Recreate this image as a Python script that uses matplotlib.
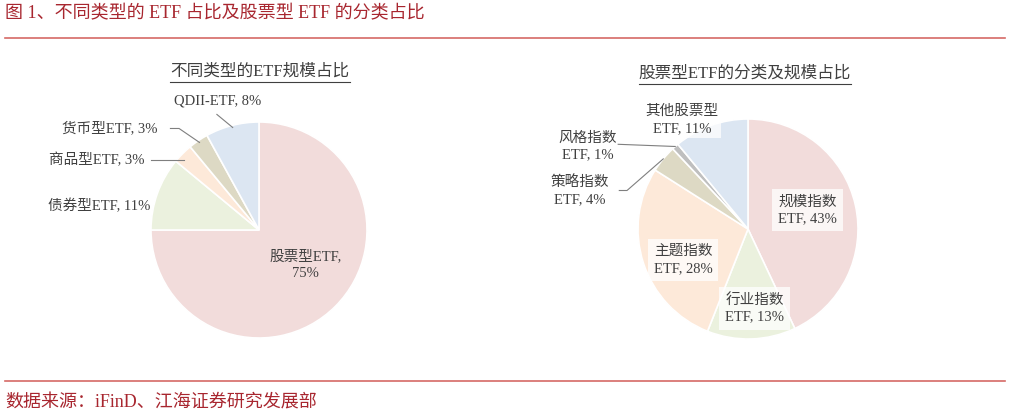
import numpy as np
import matplotlib
matplotlib.use('Agg')
import matplotlib.pyplot as plt
from matplotlib.lines import Line2D

plt.rcParams['font.family'] = ['Liberation Serif', 'Noto Sans CJK SC']

#-------------------------------------------------------------------------------
#data
#-------------------------------------------------------------------------------
left_labels = ['股票型ETF,\n75%', '债券型ETF, 11%', '商品型ETF, 3%', '货币型ETF, 3%',
               'QDII-ETF, 8%']
left_values = [75, 11, 3, 3, 8]

right_labels = ['规模指数\nETF, 43%', '行业指数\nETF, 13%', '主题指数\nETF, 28%',
                '策略指数\nETF, 4%', '风格指数\nETF, 1%', '其他股票型\nETF, 11%']
right_values = [43, 13, 28, 4, 1, 11]

colors_left = ['#F2DCDB', '#EBF1DE', '#FDE9D9', '#DDD9C4', '#DCE6F2']
colors_right = ['#F2DCDB', '#EBF1DE', '#FDE9D9', '#DDD9C4', '#BFBFBF', '#DCE6F2']

red = '#A8262F'
line_red = '#D66A66'
txt = '#404040'

W, H = 1012, 417
fig = plt.figure(figsize=(W / 100, H / 100), dpi=100)


def pie_axes(cx, cy, r):
    #axes that spans exactly the pie (pixel centre, pixel radius)
    ax = fig.add_axes([(cx - r) / W, (H - cy - r) / H, 2 * r / W, 2 * r / H])
    ax.set_xlim(-1, 1)
    ax.set_ylim(-1, 1)
    ax.axis('off')
    return ax


def mid_point(wedge, r=1.0):
    ang = np.deg2rad((wedge.theta1 + wedge.theta2) / 2)
    return r * np.cos(ang), r * np.sin(ang)


#-------------------------------------------------------------------------------
#left pie
#-------------------------------------------------------------------------------
ax1 = pie_axes(259, 230, 108)
w1, _ = ax1.pie(left_values, colors=colors_left, startangle=90, counterclock=False,
                radius=1, center=(0, 0), frame=False,
                wedgeprops=dict(edgecolor='white', linewidth=1.2))
ax1.set_xlim(-1, 1)
ax1.set_ylim(-1, 1)

lab_kw = dict(fontsize=10.5, color=txt, clip_on=False)
ax1.text(0.43, -0.32, left_labels[0], ha='center', va='center', linespacing=1.4,
         **lab_kw)
ax1.text(-1.01, 0.22, left_labels[1], ha='right', va='center', **lab_kw)
ax1.text(-1.06, 0.65, left_labels[2], ha='right', va='center', **lab_kw)
ax1.text(-0.94, 0.94, left_labels[3], ha='right', va='center', **lab_kw)
ax1.text(-0.38, 1.19, left_labels[4], ha='center', va='center', **lab_kw)

leader = dict(color='#7F7F7F', linewidth=0.8, clip_on=False)
#commodity
x, y = mid_point(w1[2], 0.98)
ax1.plot([-1.00, x], [0.65, 0.65], **leader)
#money market
x, y = mid_point(w1[3], 0.98)
ax1.plot([-0.82, -0.74, x], [0.94, 0.94, y], **leader)
#qdii
x, y = mid_point(w1[4], 0.98)
ax1.plot([-0.39, x], [1.07, y], **leader)

#-------------------------------------------------------------------------------
#right pie
#-------------------------------------------------------------------------------
ax2 = pie_axes(748, 229, 110)
w2, _ = ax2.pie(right_values, colors=colors_right, startangle=90, counterclock=False,
                radius=1, center=(0, 0), frame=False,
                wedgeprops=dict(edgecolor='white', linewidth=1.2))
ax2.set_xlim(-1, 1)
ax2.set_ylim(-1, 1)

box = dict(boxstyle='square,pad=0.4', facecolor='white', edgecolor='none', alpha=0.75)
ax2.text(0.54, 0.17, right_labels[0], ha='center', va='center', linespacing=1.4,
         bbox=box, **lab_kw)
ax2.text(0.06, -0.72, right_labels[1], ha='center', va='center', linespacing=1.4,
         bbox=box, **lab_kw)
ax2.text(-0.59, -0.28, right_labels[2], ha='center', va='center', linespacing=1.4,
         bbox=box, **lab_kw)
ax2.text(-1.53, 0.35, right_labels[3], ha='center', va='center', linespacing=1.4,
         **lab_kw)
ax2.text(-1.46, 0.75, right_labels[4], ha='center', va='center', linespacing=1.4,
         **lab_kw)
ax2.text(-0.60, 0.99, right_labels[5], ha='center', va='center', linespacing=1.4,
         bbox=dict(boxstyle='square,pad=0.2', facecolor='white', edgecolor='none',
                   alpha=0.75), **lab_kw)

#style leader
x, y = mid_point(w2[4], 1.0)
ax2.plot([-1.18, x], [0.77, y], **leader)
#strategy leader
x, y = mid_point(w2[3], 1.0)
ax2.plot([-1.17, -1.10, x], [0.35, 0.35, y], **leader)

#-------------------------------------------------------------------------------
#titles, rules and source
#-------------------------------------------------------------------------------
fig.text(5 / W, 1 - 14 / H, '图 1、不同类型的 ETF 占比及股票型 ETF 的分类占比',
         fontsize=13, color=red, ha='left', va='center')
fig.add_artist(Line2D([5 / W, 1005 / W], [1 - 38 / H, 1 - 38 / H],
                      color=line_red, linewidth=1.2))
fig.add_artist(Line2D([5 / W, 1005 / W], [1 - 381 / H, 1 - 381 / H],
                      color=line_red, linewidth=1.2))
fig.text(5 / W, 1 - 403 / H, '数据来源：iFinD、江海证券研究发展部',
         fontsize=13, color=red, ha='left', va='center')

sub1 = fig.text(260 / W, 1 - 72 / H, '不同类型的ETF规模占比', fontsize=12,
                color=txt, ha='center', va='center')
sub2 = fig.text(745 / W, 1 - 74 / H, '股票型ETF的分类及规模占比', fontsize=12,
                color=txt, ha='center', va='center')

#underline the subtitles
renderer = fig.canvas.get_renderer()
for t in (sub1, sub2):
    bb = t.get_window_extent(renderer)
    yy = (bb.y0 - 2) / H
    fig.add_artist(Line2D([bb.x0 / W, bb.x1 / W], [yy, yy], color=txt,
                          linewidth=0.8))

fig.savefig('out.png', dpi=100, facecolor='white')
